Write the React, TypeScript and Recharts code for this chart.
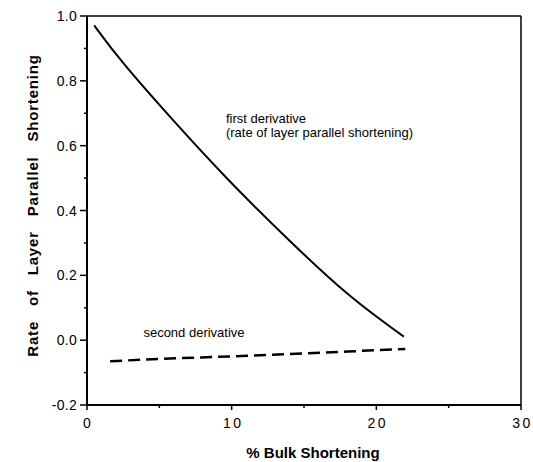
import React from 'react';
import { LineChart, Line, XAxis, YAxis, ReferenceLine, ReferenceDot } from 'recharts';

const firstX = [0.5, 2.3, 5.9, 9.7, 13.9, 18.1, 21.9];
const firstY = [0.971, 0.862, 0.68, 0.495, 0.31, 0.133, 0.011];
const secondX = [1.6, 5, 10, 15, 20, 22];
const secondY = [-0.065, -0.058, -0.05, -0.041, -0.031, -0.027];
const xTicks = [0, 5, 10, 15, 20, 25, 30];
const xMajor = [0, 10, 20, 30];
const yTicks = [-0.2, -0.1, 0, 0.1, 0.2, 0.3, 0.4, 0.5, 0.6, 0.7, 0.8, 0.9, 1.0];
const yMajor = [-0.2, 0, 0.2, 0.4, 0.6, 0.8, 1.0];

const firstData = firstX.map((x, i) => ({ x, y: firstY[i] }));
const secondData = secondX.map((x, i) => ({ x, y: secondY[i] }));

const FONT = '"Liberation Sans", Arial, Helvetica, sans-serif';

const YTick = (props: any) => {
  const { x, y, payload } = props;
  const v = payload.value;
  const major = yMajor.some((m) => Math.abs(m - v) < 1e-6);
  return (
    <g>
      <line x1={x - (major ? 7 : 3)} x2={x} y1={y} y2={y} stroke="#000" strokeWidth={1.5} />
      {major && (
        <text x={x - 10} y={y} dy={5} textAnchor="end" fontSize={14} fontFamily={FONT} fill="#000" letterSpacing={0.3}>
          {v.toFixed(1)}
        </text>
      )}
    </g>
  );
};

const XTick = (props: any) => {
  const { x, y, payload } = props;
  const v = payload.value;
  const major = xMajor.includes(v);
  return (
    <g>
      <line x1={x} x2={x} y1={y} y2={y + (major ? 5 : 3)} stroke="#000" strokeWidth={1.5} />
      {major && (
        <text x={x + (v >= 10 ? 1.5 : 0)} y={y + 18} dy={5} textAnchor="middle" fontSize={14} fontFamily={FONT} fill="#000" letterSpacing={v >= 10 ? 2.5 : 0}>
          {String(v)}
        </text>
      )}
    </g>
  );
};

const YLabel = (props: any) => {
  const vb = props.viewBox;
  const cx = vb.x + 5;
  const cy = vb.y + vb.height / 2 - 5;
  return (
    <text x={cx} y={cy} transform={`rotate(-90, ${cx}, ${cy})`} textAnchor="middle" dominantBaseline="central" fontSize={15} fontWeight="bold" fontFamily={FONT} fill="#000" letterSpacing={0.8} wordSpacing={10}>
      Rate of Layer Parallel Shortening
    </text>
  );
};

const XLabel = (props: any) => {
  const vb = props.viewBox;
  const cx = vb.x + vb.width / 2 + 9;
  const cy = 452;
  return (
    <text x={cx} y={cy} textAnchor="middle" dominantBaseline="central" fontSize={15} fontWeight="bold" fontFamily={FONT} fill="#000">
      % Bulk Shortening
    </text>
  );
};

const Annot = (lines: string[]) => (props: any) => {
  const vb = props.viewBox;
  return (
    <text x={vb.x} y={vb.y} fontSize={13} fontFamily={FONT} fill="#000">
      {lines.map((l, i) => (
        <tspan key={i} x={vb.x} dy={i === 0 ? 4.5 : 14}>{l}</tspan>
      ))}
    </text>
  );
};

export default function App() {
  return (
    <div style={{ position: 'absolute', left: 0, top: 0, background: '#fff' }}>
      <LineChart width={533} height={462} margin={{ top: 16, right: 12, bottom: 27, left: 27 }}>
        <XAxis
          type="number"
          dataKey="x"
          domain={[0, 30]}
          ticks={xTicks}
          tick={<XTick />}
          tickSize={0}
          tickMargin={0}
          height={30}
          axisLine={{ stroke: '#000', strokeWidth: 2 }}
          tickLine={false}
          allowDataOverflow
          label={<XLabel />}
        />
        <YAxis
          type="number"
          dataKey="y"
          domain={[-0.2, 1.0]}
          ticks={yTicks}
          tick={<YTick />}
          tickSize={0}
          tickMargin={0}
          width={60}
          axisLine={{ stroke: '#000', strokeWidth: 2 }}
          tickLine={false}
          allowDataOverflow
          interval={0}
          label={<YLabel />}
        />
        <ReferenceLine y={1.0} stroke="#000" strokeWidth={1.5} />
        <ReferenceLine x={30} stroke="#000" strokeWidth={1.5} />
        <Line data={firstData} dataKey="y" type="basis" stroke="#000" strokeWidth={2} dot={false} isAnimationActive={false} />
        <Line data={secondData} dataKey="y" type="monotone" stroke="#000" strokeWidth={2.5} strokeDasharray="12 6" dot={false} isAnimationActive={false} />
        <ReferenceDot x={9.6} y={0.685} r={0} fill="none" stroke="none" label={Annot(['first derivative', '(rate of layer parallel shortening)'])} />
        <ReferenceDot x={3.9} y={0.023} r={0} fill="none" stroke="none" label={Annot(['second derivative'])} />
      </LineChart>
    </div>
  );
}
